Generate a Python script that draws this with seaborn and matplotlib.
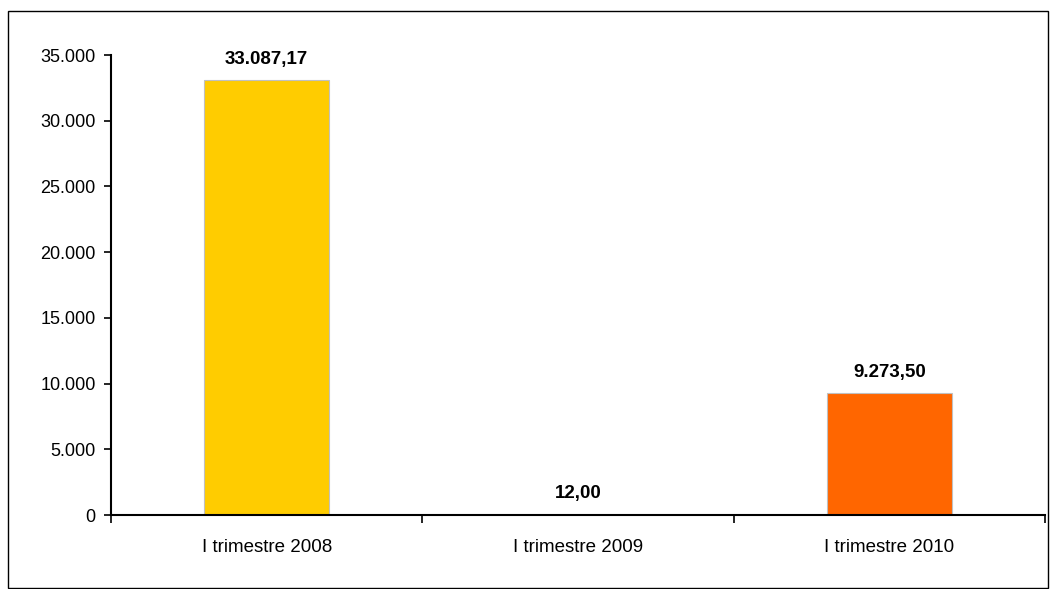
import seaborn as sns
import matplotlib.pyplot as plt
from matplotlib.patches import Rectangle
from matplotlib.ticker import FixedLocator, FuncFormatter

categorias = ['I trimestre 2008', 'I trimestre 2009', 'I trimestre 2010']
valores = [33087.17, 12.00, 9273.50]
colores = ['#FFCC00', '#FF9900', '#FF6600']

def fmt_es(v, dec=0):
    s = f'{v:,.{dec}f}'
    return s.replace(',', 'X').replace('.', ',').replace('X', '.')

sns.set_style('white')
plt.rcParams['font.family'] = ['Liberation Sans', 'DejaVu Sans']
plt.rcParams['text.color'] = 'black'

fig = plt.figure(figsize=(10.51, 5.89), dpi=100)
ax = fig.add_axes([111 / 1051, 74 / 589, 934 / 1051, 460 / 589])

sns.barplot(x=categorias, y=valores, hue=categorias, palette=colores, saturation=1,
            width=0.4, edgecolor='#C0C0C0', linewidth=0.8, legend=False, ax=ax)

ax.set_ylim(0, 35000)
ax.set_xlim(-0.5, 2.5)
ax.yaxis.set_major_locator(FixedLocator(range(0, 35001, 5000)))
ax.yaxis.set_major_formatter(FuncFormatter(lambda v, p: fmt_es(v)))
ax.tick_params(axis='y', direction='out', length=5, width=1.2, left=True,
               labelsize=13, pad=6, colors='black')
ax.set_xticks(range(3))
ax.set_xticklabels(categorias)
ax.tick_params(axis='x', which='major', length=0, labelsize=13.5, pad=17, labelcolor='black')
ax.set_xticks([-0.5, 0.5, 1.5, 2.5], minor=True)
ax.tick_params(axis='x', which='minor', direction='out', length=6, width=1.2,
               bottom=True, color='black')

for s in ['top', 'right']:
    ax.spines[s].set_visible(False)
for s in ['left', 'bottom']:
    ax.spines[s].set_color('black')
    ax.spines[s].set_linewidth(1.5)

for i, v in enumerate(valores):
    ax.annotate(fmt_es(v, 2), (i, v), xytext=(0, 9), textcoords='offset points',
                ha='center', va='bottom', fontsize=13.5, fontweight='bold', color='black')

fig.patches.append(Rectangle((8 / 1051, 1 / 589), 1040 / 1051, 577 / 589,
                             transform=fig.transFigure, fill=False,
                             edgecolor='black', linewidth=1))

fig.savefig('out.png', dpi=100)
